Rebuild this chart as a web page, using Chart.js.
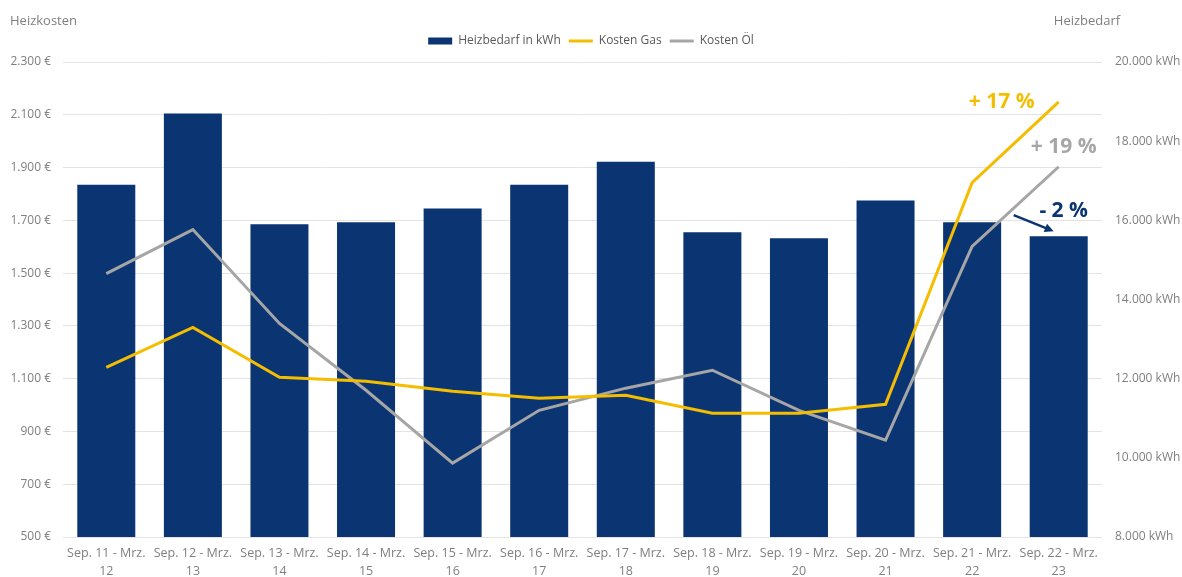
<!DOCTYPE html>
<html>
<head>
<meta charset="utf-8">
<script src="https://cdn.jsdelivr.net/npm/chart.js@4/dist/chart.umd.min.js"></script>
<style>
  html, body { margin: 0; padding: 0; background: #fff; }
  #wrap { width: 1182px; height: 577px; position: relative; }
</style>
</head>
<body>
<div id="wrap"><canvas id="heizChart"></canvas></div>
<script>
const zeitraum = [
  ['Sep. 11 - Mrz.', '12'], ['Sep. 12 - Mrz.', '13'], ['Sep. 13 - Mrz.', '14'],
  ['Sep. 14 - Mrz.', '15'], ['Sep. 15 - Mrz.', '16'], ['Sep. 16 - Mrz.', '17'],
  ['Sep. 17 - Mrz.', '18'], ['Sep. 18 - Mrz.', '19'], ['Sep. 19 - Mrz.', '20'],
  ['Sep. 20 - Mrz.', '21'], ['Sep. 21 - Mrz.', '22'], ['Sep. 22 - Mrz.', '23']
];
const heizbedarf = [16900, 18700, 15900, 15950, 16300, 16900, 17480, 15700, 15550, 16500, 15950, 15600];
const kostenGas  = [1143, 1294, 1105, 1090, 1052, 1026, 1037, 969, 969, 1003, 1843, 2149];
const kostenOel  = [1498, 1665, 1309, 1056, 780, 980, 1064, 1132, 980, 867, 1601, 1903];
const euroTicks  = [500, 700, 900, 1100, 1300, 1500, 1700, 1900, 2100, 2300];
const kwhTicks   = [8000, 10000, 12000, 14000, 16000, 18000, 20000];
const aenderung  = ['+ 17 %', '+ 19 %', '- 2 %'];

const navy = '#0b3572';
const gold = '#f5bd00';
const grau = '#a6a6a6';
const textGrau = '#7f7f7f';
const font = '"Open Sans", "Noto Sans", sans-serif';

function tausend(v) {
  return String(v).replace(/\B(?=(\d{3})+(?!\d))/g, '.');
}

// a bit more room between legend and plot
const legendAbstand = {
  id: 'legendAbstand',
  beforeInit(chart) {
    const fit = chart.legend.fit;
    chart.legend.fit = function () { fit.call(this); this.height += 5; };
  }
};

// axis titles at the top corners
const titel = {
  id: 'titel',
  afterDraw(chart) {
    const ctx = chart.ctx;
    ctx.save();
    ctx.font = '13px ' + font;
    ctx.fillStyle = textGrau;
    ctx.textBaseline = 'middle';
    ctx.textAlign = 'left';
    ctx.fillText('Heizkosten', 10, 21);
    ctx.textAlign = 'center';
    ctx.fillText('Heizbedarf', 1087, 21);
    ctx.restore();
  }
};

// percentage notes next to the last period
const notizen = {
  id: 'notizen',
  afterDatasetsDraw(chart) {
    const { ctx, scales } = chart;
    const i = zeitraum.length - 1;
    const xp = scales.x.getPixelForValue(i);
    const gasY = scales.y.getPixelForValue(kostenGas[i]);
    const oelY = scales.y.getPixelForValue(kostenOel[i]);
    const barY = scales.y1.getPixelForValue(heizbedarf[i]);
    ctx.save();
    ctx.font = 'bold 21px ' + font;
    ctx.textAlign = 'center';
    ctx.textBaseline = 'middle';
    ctx.fillStyle = gold;
    ctx.fillText(aenderung[0], xp - 57, gasY);
    ctx.fillStyle = grau;
    ctx.fillText(aenderung[1], xp + 5, oelY - 20);
    ctx.fillStyle = navy;
    ctx.fillText(aenderung[2], xp + 5, barY - 25);

    // arrow
    const x1 = xp - 45, y1 = barY - 21, x2 = xp - 5, y2 = barY - 5;
    const a = Math.atan2(y2 - y1, x2 - x1);
    ctx.strokeStyle = navy;
    ctx.lineWidth = 2.5;
    ctx.beginPath();
    ctx.moveTo(x1, y1);
    ctx.lineTo(x2 - 5 * Math.cos(a), y2 - 5 * Math.sin(a));
    ctx.stroke();
    ctx.beginPath();
    ctx.moveTo(x2, y2);
    ctx.lineTo(x2 - 9 * Math.cos(a) + 4.5 * Math.sin(a), y2 - 9 * Math.sin(a) - 4.5 * Math.cos(a));
    ctx.lineTo(x2 - 9 * Math.cos(a) - 4.5 * Math.sin(a), y2 - 9 * Math.sin(a) + 4.5 * Math.cos(a));
    ctx.closePath();
    ctx.fillStyle = navy;
    ctx.fill();
    ctx.restore();
  }
};

Chart.defaults.font.family = font;
Chart.defaults.font.size = 12;
Chart.defaults.color = textGrau;

new Chart(document.getElementById('heizChart'), {
  data: {
    labels: zeitraum,
    datasets: [
      {
        type: 'line',
        label: 'Kosten Gas',
        data: kostenGas,
        yAxisID: 'y',
        borderColor: gold,
        backgroundColor: gold,
        borderWidth: 3,
        pointRadius: 0,
        tension: 0,
        order: 1
      },
      {
        type: 'line',
        label: 'Kosten Öl',
        data: kostenOel,
        yAxisID: 'y',
        borderColor: grau,
        backgroundColor: grau,
        borderWidth: 3,
        pointRadius: 0,
        tension: 0,
        order: 2
      },
      {
        type: 'bar',
        label: 'Heizbedarf in kWh',
        data: heizbedarf,
        yAxisID: 'y1',
        backgroundColor: navy,
        borderWidth: 0,
        barPercentage: 0.67,
        categoryPercentage: 1,
        order: 3
      }
    ]
  },
  options: {
    responsive: true,
    maintainAspectRatio: false,
    animation: false,
    layout: { padding: { top: 27, bottom: 0, left: 0, right: 0 } },
    plugins: {
      legend: {
        position: 'top',
        labels: {
          usePointStyle: true,
          pointStyleWidth: 24,
          boxHeight: 7,
          padding: 8,
          color: '#595959',
          font: { size: 12 },
          sort: (a, b) => (a.datasetIndex === 2 ? -1 : (b.datasetIndex === 2 ? 1 : a.datasetIndex - b.datasetIndex)),
          generateLabels(chart) {
            const items = Chart.defaults.plugins.legend.labels.generateLabels(chart);
            items.forEach(it => {
              it.pointStyle = chart.data.datasets[it.datasetIndex].type === 'bar' ? 'rect' : 'line';
              if (it.pointStyle === 'line') { it.strokeStyle = it.fillStyle; it.lineWidth = 3; }
            });
            return items;
          }
        }
      },
      tooltip: { enabled: false }
    },
    scales: {
      x: {
        afterFit: s => { s.height = 40; },
        grid: { display: false, drawTicks: false },
        border: { display: false },
        ticks: { maxRotation: 0, autoSkip: false, padding: 8, color: textGrau, font: { size: 12.5, lineHeight: 1.4 } }
      },
      y: {
        position: 'left',
        min: 500,
        max: 2300,
        afterBuildTicks: s => { s.ticks = euroTicks.map(v => ({ value: v })); },
        afterFit: s => { s.width = 63; },
        grid: { color: '#e3e3e3', lineWidth: 1, drawTicks: false },
        border: { display: false },
        ticks: { padding: 12, callback: v => tausend(v) + ' €' }
      },
      y1: {
        position: 'right',
        min: 8000,
        max: 20000,
        afterBuildTicks: s => { s.ticks = kwhTicks.map(v => ({ value: v })); },
        afterFit: s => { s.width = 80; },
        grid: { display: false, drawTicks: false },
        border: { display: false },
        ticks: { padding: 13, callback: v => tausend(v) + ' kWh' }
      }
    }
  },
  plugins: [legendAbstand, titel, notizen]
});
</script>
</body>
</html>
